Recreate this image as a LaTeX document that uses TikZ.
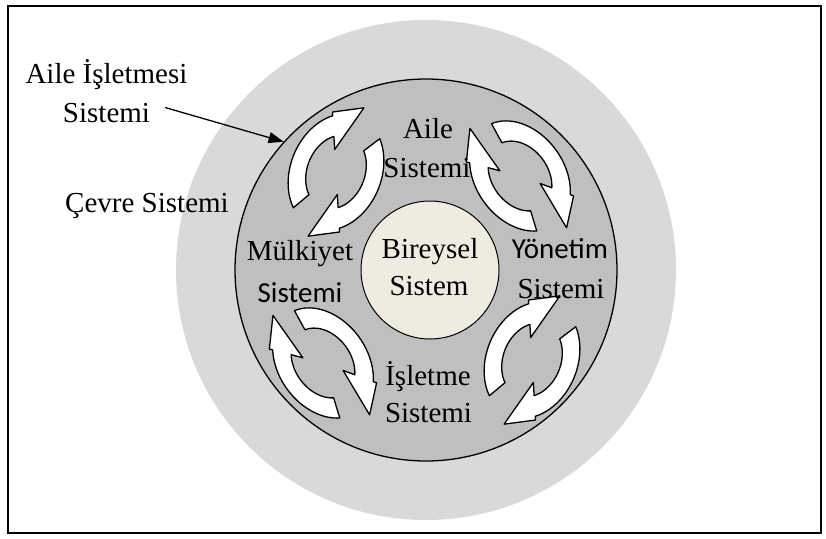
\documentclass[tikz,border=0pt]{standalone}
\usepackage{fontspec}
\setmainfont{Liberation Serif}
\newfontfamily\calibrilike{Carlito}
\usetikzlibrary{arrows.meta,calc}
\definecolor{envgray}{HTML}{D9D9D9}
\definecolor{famgray}{HTML}{BFBFBF}
\definecolor{selfcream}{HTML}{EEECE1}

\tikzset{
  cyclearrow/.style={draw=black, fill=white, line width=1.3pt, line join=round},
  lbl/.style={anchor=base, inner sep=0pt, font=\fontsize{29}{34}\selectfont},
  lblsans/.style={anchor=base, inner sep=0pt, font=\calibrilike\fontsize{29}{34}\selectfont},
  pointer/.style={-{Triangle[length=15pt,width=11pt]}, line width=1.3pt},
  frameline/.style={draw=black, line width=2pt},
}

% one curved block arrow of a cycle: tail angle, tip angle (local frame)
\newcommand{\cyclepiece}[2]{%
  \pgfmathsetmacro{\bodyend}{#2-34}%
  \draw[cyclearrow] plot[domain=#1:\bodyend,samples=30] (\x:60)
    -- (\bodyend:64) -- (#2:70) -- (\bodyend:24) -- (\bodyend:38)
    -- plot[domain=\bodyend:#1,samples=30] (\x:38) -- cycle;}

\begin{document}
\begin{tikzpicture}[x=1pt,y=-1pt]
\useasboundingbox (0,0) rectangle (826,538);
\draw[frameline] (8,6) rectangle (821,533);

% nested system circles
\node[circle, fill=envgray, minimum size=500pt, inner sep=0pt] (env) at (426,270) {};
\node[circle, draw, line width=1.3pt, fill=famgray, minimum size=382pt, inner sep=0pt] (fam) at (426,270) {};
\node[circle, draw, line width=1pt, fill=selfcream, minimum size=138pt, inner sep=0pt] (self) at (430,270) {};

% cycle arrows between the subsystems
\begin{scope}[shift={(336,172)}, rotate=-22, xscale=0.76]
  \cyclepiece{125}{272}\cyclepiece{308}{452}
\end{scope}
\begin{scope}[shift={(532,360)}, rotate=-22, xscale=0.76]
  \cyclepiece{125}{272}\cyclepiece{308}{452}
\end{scope}
\begin{scope}[shift={(520,176)}, rotate=36, xscale=0.74]
  \cyclepiece{115}{256}\cyclepiece{280}{442}
\end{scope}
\begin{scope}[shift={(323,363)}, rotate=36, xscale=0.74]
  \cyclepiece{115}{256}\cyclepiece{280}{442}
\end{scope}

% labels
\node[lbl] (ais1) at (106.5,83) {Aile İşletmesi};
\node[lbl] (ais2) at (106.5,122) {Sistemi};
\node[lbl] (cev) at (147,212) {Çevre Sistemi};
\node[lbl] (aile1) at (428,138) {Aile};
\node[lbl] (aile2) at (427,177) {Sistemi};
\node[lbl] (mulk1) at (300,260) {Mülkiyet};
\node[lblsans] (mulk2) at (300,302) {Sistemi};
\node[lbl] (bir1) at (430,258) {Bireysel};
\node[lbl] (bir2) at (429,295) {Sistem};
\node[lblsans] (yon1) at (560,258) {Yönetim};
\node[lbl] (yon2) at (561,298) {Sistemi};
\node[lbl] (isl1) at (428,385) {İşletme};
\node[lbl] (isl2) at (428.5,422) {Sistemi};

\draw[pointer] ([shift={(15,-5)}]ais2.east) -- (fam.138);
\end{tikzpicture}
\end{document}
